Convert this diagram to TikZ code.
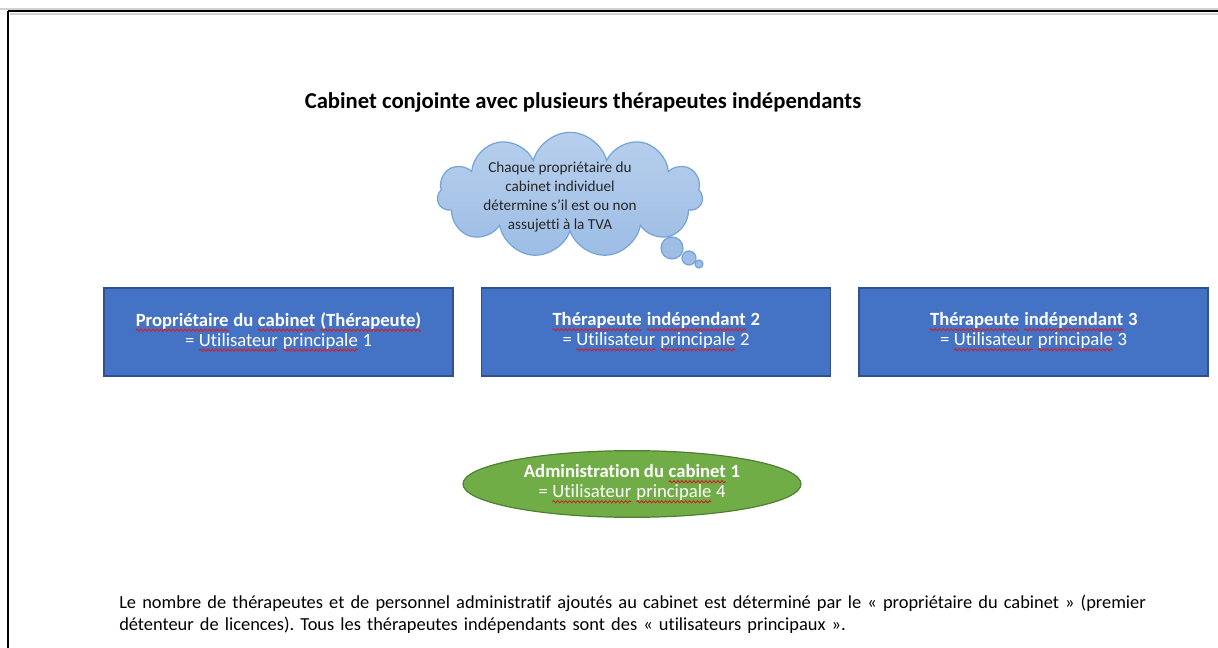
\documentclass[tikz,border=0pt]{standalone}
\usepackage{fontspec}
\setmainfont{Carlito}[Ligatures=NoCommon]
\frenchspacing
\usetikzlibrary{shapes.geometric,shapes.symbols,decorations.pathmorphing}
\definecolor{boxblue}{HTML}{4472C4}
\definecolor{boxedge}{HTML}{2F528F}
\definecolor{ellgreen}{HTML}{70AD47}
\definecolor{elledge}{HTML}{507E32}
\definecolor{cloudtop}{HTML}{B7CFEC}
\definecolor{cloudbot}{HTML}{9DBDE5}
\definecolor{cloudedge}{HTML}{74A3DB}
\definecolor{spell}{HTML}{D0202A}
\newcommand\sq[1]{\tikz[baseline=(w.base), x=1pt, y=1pt]{\node[shape=rectangle, draw=none, fill=none, inner sep=0pt, outer sep=0pt, minimum width=0pt, minimum height=0pt, anchor=base] (w) {#1}; \draw[spell, line width=0.7pt, decorate, decoration={snake, amplitude=0.8pt, segment length=3pt}] ([yshift=-3pt]w.base west) -- ([yshift=-3pt]w.base east);}}
\tikzset{
  x=0.75pt, y=-0.75pt,
  bluebox/.style={draw=boxedge, line width=0.9pt, fill=boxblue, minimum width=261.75pt, minimum height=66pt, align=center, text=white, font=\fontsize{14}{15}\selectfont, inner sep=0pt},
  greenell/.style={ellipse, draw=elledge, line width=0.9pt, fill=ellgreen, minimum width=253.5pt, minimum height=50pt, align=center, text=white, font=\fontsize{14}{15}\selectfont, inner sep=0pt},
  thought/.style={cloud, cloud puffs=11, aspect=2.1, draw=cloudedge, line width=0.9pt, top color=cloudtop, bottom color=cloudbot, minimum width=199pt, minimum height=94pt, inner sep=0pt},
  bubble/.style={circle, draw=cloudedge, line width=0.9pt, fill=cloudbot, inner sep=0pt},
  titletext/.style={font=\fontsize{17}{20}\selectfont\bfseries},
  cloudtext/.style={font=\fontsize{11.4}{14.2}\selectfont, text=black!85, align=center},
  notetext/.style={font=\fontsize{13.8}{16}\selectfont, align=left, anchor=north west, inner sep=0pt, text width=850pt},
  frame/.style={line width=1.9pt, black},
  frameshade/.style={line width=1.2pt, black!18}
}
\begin{document}
\begin{tikzpicture}
\useasboundingbox (0,0) rectangle (1218,648);
% frame
\draw[frameshade] (0,9) -- (1218,9);
\draw[frameshade] (10,14) -- (1218,14);
\draw[frame] (8,11) -- (1218,11);
\draw[frame] (8,11) -- (8,648);
% title
\node[titletext] (title) at (583,102) {Cabinet conjointe avec plusieurs thérapeutes indépendants};
% cloud
\node[thought] (cloud) at (570,195) {};
\node[bubble, minimum size=16.5pt] (b1) at (672,248) {};
\node[bubble, minimum size=10.5pt] (b2) at (689,258) {};
\node[bubble, minimum size=6pt] (b3) at (699,264) {};
\node[cloudtext] (cloudtxt) at (560,197) {Chaque propriétaire du\\cabinet individuel\\détermine s'il est ou non\\assujetti à la TVA};
% boxes
\node[bluebox] (p1) at (278.5,332) {\textbf{\sq{Propriétaire} du \sq{cabinet} \sq{(Thérapeute)}}\\= \sq{Utilisateur} \sq{principale} 1};
\node[bluebox] (p2) at (656,332) {\textbf{\sq{Thérapeute} \sq{indépendant} 2}\\= \sq{Utilisateur} \sq{principale} 2};
\node[bluebox] (p3) at (1033.5,332) {\textbf{\sq{Thérapeute} \sq{indépendant} 3}\\= \sq{Utilisateur} \sq{principale} 3};
% ellipse
\node[greenell] (admin) at (632,484) {\textbf{Administration du \sq{cabinet} 1}\\= \sq{Utilisateur} \sq{principale} 4};
% note
\node[notetext] (note) at (119,595) {Le nombre de thérapeutes et de personnel administratif ajoutés au cabinet est déterminé par le « propriétaire du cabinet » (premier\\détenteur de licences). Tous les thérapeutes indépendants sont des « utilisateurs principaux ».};
\end{tikzpicture}
\end{document}
